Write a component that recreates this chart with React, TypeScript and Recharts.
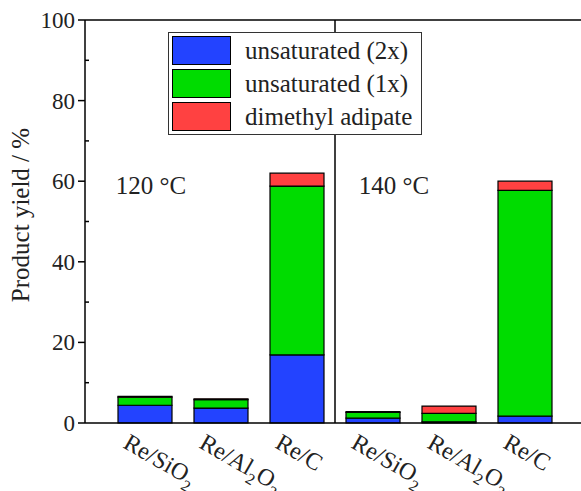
import React from 'react';
import {
  Bar,
  BarChart,
  Legend,
  ReferenceDot,
  ReferenceLine,
  XAxis,
  YAxis,
} from 'recharts';

const catalystIds = ['120-SiO2', '120-Al2O3', '120-C', '140-SiO2', '140-Al2O3', '140-C'];
const catalystLabels = ['Re/SiO2', 'Re/Al2O3', 'Re/C', 'Re/SiO2', 'Re/Al2O3', 'Re/C'];
const unsaturated2x = [4.4, 3.7, 16.9, 1.2, 0.3, 1.7];
const unsaturated1x = [2.0, 2.1, 41.9, 1.4, 2.1, 56.0];
const dimethylAdipate = [0.2, 0.2, 3.2, 0.2, 1.8, 2.3];

const seriesNames = ['unsaturated (2x)', 'unsaturated (1x)', 'dimethyl adipate'];
const seriesColors = ['#2343ff', '#00dc00', '#ff4141'];

const leftTicks = [0, 10, 20, 30, 40, 50, 60, 70, 80, 90, 100];
const rightTicks = [0, 20, 40, 60, 80, 100];

const data = catalystIds.map((id, i) => ({
  id,
  label: catalystLabels[i],
  u2: unsaturated2x[i],
  u1: unsaturated1x[i],
  dma: dimethylAdipate[i],
}));

const FONT = '"Liberation Serif", "DejaVu Serif", serif';

// splits "Re/Al2O3" into normal text and subscript digits
const renderChemical = (text: string) => {
  const parts = text.split(/(\d)/).filter((p) => p !== '');
  let sub = false;
  return parts.map((p, i) => {
    const isDigit = /\d/.test(p);
    let dy = 0;
    if (isDigit && !sub) dy = 7;
    if (!isDigit && sub) dy = -7;
    sub = isDigit;
    return (
      <tspan key={i} dy={dy} fontSize={isDigit ? 16 : 24}>
        {p}
      </tspan>
    );
  });
};

const XTick = (props: any) => {
  const { x, y, index } = props;
  const tx = x - 23;
  const ty = y + 24;
  return (
    <text
      x={tx}
      y={ty}
      transform={`rotate(30, ${tx}, ${ty})`}
      fill="#222"
      fontSize={24}
      textAnchor="start"
    >
      {renderChemical(catalystLabels[index] ?? '')}
    </text>
  );
};

const LeftTick = (props: any) => {
  const { x, y, payload } = props;
  const major = payload.value % 20 === 0;
  return (
    <g>
      {major ? (
        <line x1={x - 7} x2={x} y1={y} y2={y} stroke="#000" strokeWidth={1.5} />
      ) : (
        <line x1={x} x2={x + 4} y1={y} y2={y} stroke="#000" strokeWidth={1.5} />
      )}
      {major && (
        <text x={x - 10} y={y} dy={8} textAnchor="end" fontSize={23} fill="#222">
          {payload.value}
        </text>
      )}
    </g>
  );
};

const renderLegend = (props: any) => {
  const entries = [...(props.payload ?? [])].sort(
    (a: any, b: any) => seriesNames.indexOf(a.value) - seriesNames.indexOf(b.value),
  );
  return (
    <div
      style={{
        border: '1px solid #333',
        background: '#fff',
        padding: '3px 3px',
        boxSizing: 'border-box',
        width: 254,
        fontFamily: FONT,
      }}
    >
      {entries.map((entry: any, i: number) => (
        <div
          key={i}
          style={{
            display: 'flex',
            alignItems: 'center',
            height: 29,
            marginBottom: i < entries.length - 1 ? 4 : 0,
          }}
        >
          <div
            style={{
              width: 59,
              height: 29,
              background: entry.color,
              border: '1px solid #000',
              boxSizing: 'border-box',
              marginRight: 14,
            }}
          />
          <span style={{ fontSize: 25, color: '#222', lineHeight: '29px', whiteSpace: 'nowrap' }}>
            {entry.value}
          </span>
        </div>
      ))}
    </div>
  );
};

const tempLabel = (text: string, dx: number) => (props: any) => {
  const { viewBox } = props;
  return (
    <text
      x={viewBox.x + dx}
      y={viewBox.y}
      dy={8}
      textAnchor="middle"
      fontSize={25}
      fill="#222"
    >
      {text}
    </text>
  );
};

const App: React.FC = () => {
  return (
    <div style={{ position: 'absolute', left: 0, top: 0, fontFamily: FONT }}>
      <BarChart
        width={581}
        height={491}
        data={data}
        margin={{ top: 20, right: 0, bottom: 0, left: 0 }}
        barSize={54}
      >
        <XAxis
          dataKey="id"
          type="category"
          interval={0}
          padding={{ left: 22, right: 18 }}
          height={68}
          tickSize={0}
          tickMargin={0}
          tickLine={false}
          axisLine={{ stroke: '#000', strokeWidth: 1.5 }}
          tick={<XTick />}
        />
        <YAxis
          yAxisId="left"
          domain={[0, 100]}
          ticks={leftTicks}
          interval={0}
          width={85}
          tickSize={0}
          tickMargin={0}
          tickLine={false}
          axisLine={{ stroke: '#000', strokeWidth: 1.5 }}
          tick={<LeftTick />}
          label={{
            content: () => (
              <text
                x={29}
                y={215}
                transform="rotate(-90, 29, 215)"
                textAnchor="middle"
                fontSize={25}
                fill="#222"
              >
                Product yield / %
              </text>
            ),
          }}
        />
        <YAxis
          yAxisId="right"
          orientation="right"
          domain={[0, 100]}
          ticks={rightTicks}
          interval={0}
          width={0}
          mirror
          tickSize={4}
          tickLine={{ stroke: '#000', strokeWidth: 1.5 }}
          axisLine={{ stroke: '#000', strokeWidth: 1.5 }}
          tick={() => <g />}
        />
        <ReferenceLine yAxisId="left" y={100} stroke="#000" strokeWidth={1.5} />
        <ReferenceLine
          yAxisId="left"
          x="120-C"
          position="end"
          stroke="#000"
          strokeWidth={1.5}
        />
        <Legend
          layout="horizontal"
          verticalAlign="middle"
          align="center"
          content={renderLegend}
          wrapperStyle={{ left: 168, top: 32, width: 254 }}
        />
        <Bar
          yAxisId="left"
          dataKey="u2"
          name={seriesNames[0]}
          stackId="s"
          fill={seriesColors[0]}
          stroke="#000"
          strokeWidth={1.2}
          isAnimationActive={false}
        />
        <Bar
          yAxisId="left"
          dataKey="u1"
          name={seriesNames[1]}
          stackId="s"
          fill={seriesColors[1]}
          stroke="#000"
          strokeWidth={1.2}
          isAnimationActive={false}
        />
        <Bar
          yAxisId="left"
          dataKey="dma"
          name={seriesNames[2]}
          stackId="s"
          fill={seriesColors[2]}
          stroke="#000"
          strokeWidth={1.2}
          isAnimationActive={false}
        />
        <ReferenceDot
          yAxisId="left"
          x="120-SiO2"
          y={58.8}
          r={0}
          fill="none"
          stroke="none"
          label={{ content: tempLabel('120 °C', 6) }}
        />
        <ReferenceDot
          yAxisId="left"
          x="140-SiO2"
          y={58.8}
          r={0}
          fill="none"
          stroke="none"
          label={{ content: tempLabel('140 °C', 21) }}
        />
      </BarChart>
    </div>
  );
};

export default App;
